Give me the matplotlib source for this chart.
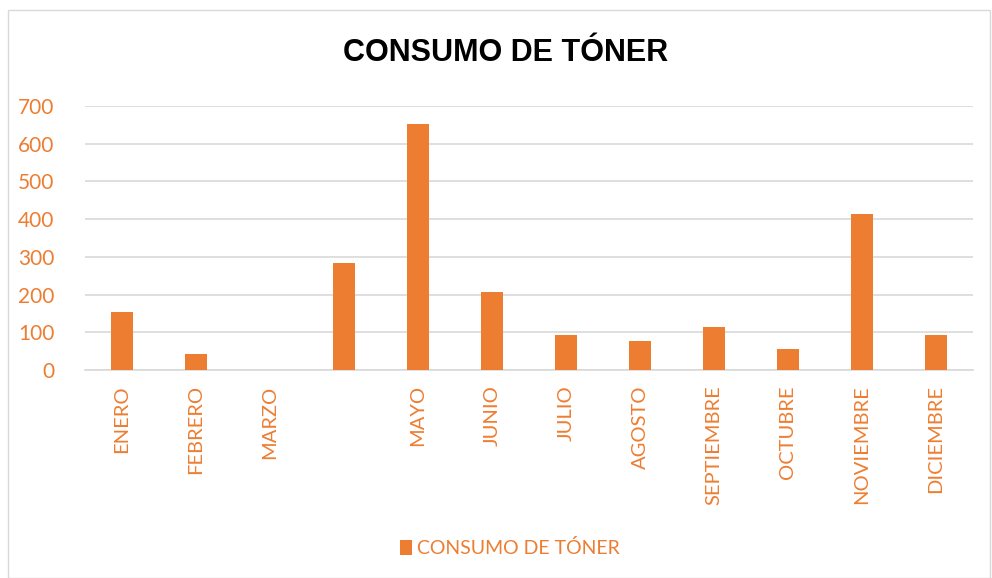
import matplotlib
matplotlib.use("Agg")
import matplotlib.pyplot as plt
from matplotlib.patches import Rectangle

# data
meses = ["ENERO", "FEBRERO", "MARZO", "", "MAYO", "JUNIO", "JULIO",
         "AGOSTO", "SEPTIEMBRE", "OCTUBRE", "NOVIEMBRE", "DICIEMBRE"]
consumo = [153, 42, 0, 283, 651, 206, 93, 78, 113, 56, 414, 93]
y_ticks = [0, 100, 200, 300, 400, 500, 600, 700]

orange = "#ED7D31"
grid_gray = "#D9D9D9"
label_font = ["Lato", "DejaVu Sans"]

fig = plt.figure(figsize=(9.92, 5.78), dpi=100)
ax = fig.add_axes([85 / 992, 1 - 370 / 578, 888 / 992, 264 / 578])

x = range(len(meses))
ax.bar(x, consumo, width=0.31, color=orange, zorder=3, label="CONSUMO DE TÓNER")

ax.set_xlim(-0.5, len(meses) - 0.5)
ax.set_ylim(0, 700)
ax.set_yticks(y_ticks)
ax.set_xticks(list(x))
ax.set_xticklabels(meses, rotation=90, fontsize=14.5, color=orange, family=label_font)
for lbl in ax.get_yticklabels():
    lbl.set_fontsize(15)
    lbl.set_color(orange)
    lbl.set_family(label_font)

ax.yaxis.grid(True, color=grid_gray, linewidth=1.2, zorder=0)
ax.tick_params(axis="both", length=0)
ax.tick_params(axis="y", pad=22)
ax.tick_params(axis="x", pad=11)
for side in ["top", "right", "left"]:
    ax.spines[side].set_visible(False)
ax.spines["bottom"].set_color(grid_gray)
ax.spines["bottom"].set_linewidth(1.2)

fig.text(506 / 992, 1 - 53 / 578, "CONSUMO DE TÓNER", ha="center", va="center",
         fontsize=22, fontweight="bold", color="black",
         family=["Liberation Sans Narrow", "Liberation Sans", "DejaVu Sans"])

leg = fig.legend(loc="center", bbox_to_anchor=(510 / 992, 1 - 548 / 578), frameon=False,
                 prop={"family": label_font, "size": 14}, handlelength=0.6,
                 handleheight=0.8, handletextpad=0.3)
for t in leg.get_texts():
    t.set_color(orange)

# chart area border
fig.patches.append(Rectangle((8 / 992, 0), 982 / 992, 1 - 10 / 578,
                             transform=fig.transFigure, fill=False,
                             edgecolor="#D9D9D9", linewidth=1))

fig.savefig("out.png", dpi=100)
